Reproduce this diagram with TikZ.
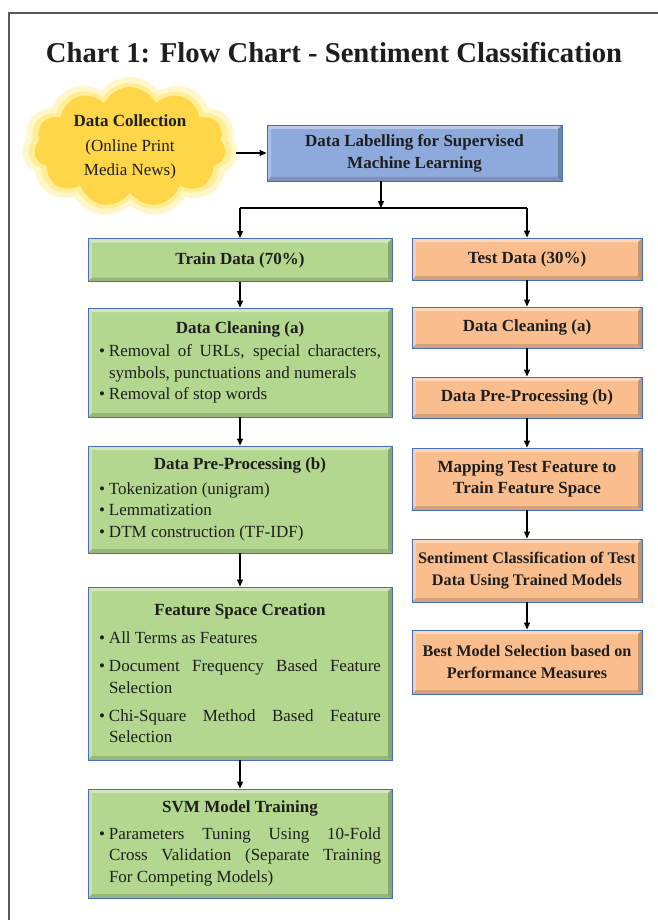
\documentclass[tikz,border=0pt]{standalone}
\usepackage{fontspec}
\setmainfont{Liberation Serif}
\usetikzlibrary{arrows.meta,shapes.symbols}
\definecolor{gfill}{RGB}{179,215,142}
\definecolor{ofill}{RGB}{250,190,142}
\definecolor{bfill}{RGB}{142,170,220}
\definecolor{bord}{RGB}{70,110,190}
\definecolor{txt}{RGB}{30,30,30}
\definecolor{cloudfill}{RGB}{255,214,72}
\definecolor{cloudglow}{RGB}{255,238,150}
\definecolor{framec}{RGB}{90,90,90}
\newcommand{\bodyfont}{\fontsize{17}{21.5}\selectfont}
\newcommand{\itm}[1]{\par\noindent\hangindent=10pt\hangafter=1\makebox[10pt][l]{\textbullet}#1\par}
\newcommand{\boxtitle}[1]{\centerline{\bfseries #1}}
\tikzset{
  bevel/.style={path picture={
    \fill[white,opacity=0.40] (path picture bounding box.north west) -- (path picture bounding box.north east)
      -- ([shift={(-4pt,-4pt)}]path picture bounding box.north east) -- ([shift={(4pt,-4pt)}]path picture bounding box.north west) -- cycle;
    \fill[white,opacity=0.25] (path picture bounding box.north west) -- ([shift={(4pt,-4pt)}]path picture bounding box.north west)
      -- ([shift={(4pt,4pt)}]path picture bounding box.south west) -- (path picture bounding box.south west) -- cycle;
    \fill[black,opacity=0.22] (path picture bounding box.north east) -- (path picture bounding box.south east)
      -- ([shift={(-4pt,4pt)}]path picture bounding box.south east) -- ([shift={(-4pt,-4pt)}]path picture bounding box.north east) -- cycle;
    \fill[black,opacity=0.15] (path picture bounding box.south west) -- (path picture bounding box.south east)
      -- ([shift={(-4pt,4pt)}]path picture bounding box.south east) -- ([shift={(4pt,4pt)}]path picture bounding box.south west) -- cycle;
  }},
  box/.style={draw=bord, line width=0.9pt, inner sep=0pt, text=txt, font=\bodyfont, bevel},
  gbox/.style={box, fill=gfill},
  gsimple/.style={gbox, align=center, font=\bodyfont\bfseries},
  glist/.style={gbox, text width=282pt, align=justify},
  obox/.style={box, fill=ofill, align=center, font=\bodyfont\bfseries, minimum width=230pt},
  bbox/.style={box, fill=bfill, align=center, font=\bodyfont\bfseries},
  arr/.style={-{Triangle[length=7pt,width=6pt]}, line width=1.1pt, black},
  conn/.style={line width=1.1pt, black}
}
\begin{document}
\begin{tikzpicture}[x=1pt,y=-1pt]
\useasboundingbox (0,0) rectangle (657,920);
\fill[white] (0,0) rectangle (657,920);
\draw[framec, line width=1.2pt] (9,930) -- (9,13) -- (670,13);

\node[anchor=base, text=txt, font=\fontsize{28.7}{34}\selectfont\bfseries] (title) at (334,63)
  {Chart 1: Flow Chart - Sentiment Classification};

% cloud
\node[cloud, cloud puffs=11, cloud puff arc=120, aspect=1.7, minimum width=204pt, minimum height=128pt,
      draw=cloudglow, draw opacity=0.5, line width=12pt, fill=cloudglow] (cloudglow) at (130,147) {};
\node[cloud, cloud puffs=11, cloud puff arc=120, aspect=1.7, minimum width=196pt, minimum height=122pt,
      draw=cloudglow, line width=4pt, fill=cloudfill, text=txt, align=center,
      font=\fontsize{17}{24.5}\selectfont] (cloud) at (130,147)
  {\textbf{Data Collection}\\(Online Print\\Media News)};

% top label box
\node[bbox, minimum width=295pt, minimum height=56pt, font=\fontsize{17}{22}\selectfont\bfseries] (label) at (414.5,153)
  {Data Labelling for Supervised\\Machine Learning};

% left column
\node[gsimple, minimum width=304pt, minimum height=43pt] (train) at (240,260) {Train Data (70\%)};
\node[glist, minimum width=304pt, minimum height=109pt] (clean) at (240,362.5)
  {\boxtitle{Data Cleaning (a)}\vspace{2pt}%
   \itm{Removal of URLs, special characters,\linebreak symbols, punctuations and numerals}%
   \itm{Removal of stop words}};
\node[glist, minimum width=304pt, minimum height=107pt] (prep) at (240,499.5)
  {\boxtitle{Data Pre-Processing (b)}\vspace{3pt}%
   \itm{Tokenization (unigram)}%
   \itm{Lemmatization}%
   \itm{DTM construction (TF-IDF)}};
\node[glist, minimum width=304pt, minimum height=173pt] (feat) at (240,673.5)
  {\parskip=6.5pt\boxtitle{Feature Space Creation}%
   \itm{All Terms as Features}%
   \itm{Document Frequency Based Feature\linebreak Selection}%
   \itm{Chi-Square Method Based Feature\linebreak Selection}};
\node[glist, minimum width=304pt, minimum height=109pt] (svm) at (240,843.5)
  {\boxtitle{SVM Model Training}\vspace{5pt}%
   \itm{Parameters Tuning Using 10-Fold\linebreak Cross Validation (Separate Training\linebreak For Competing Models)}};

% right column
\node[obox, minimum height=42pt] (test) at (527,259) {Test Data (30\%)};
\node[obox, minimum height=41pt] (tclean) at (527,327.5) {Data Cleaning (a)};
\node[obox, minimum height=41pt] (tprep) at (527,397.5) {Data Pre-Processing (b)};
\node[obox, minimum height=62pt] (tmap) at (527,479) {Mapping Test Feature to\\Train Feature Space};
\node[obox, minimum height=63pt, font=\fontsize{16.2}{21.5}\selectfont\bfseries] (tsent) at (527,570.5) {Sentiment Classification of Test\\Data Using Trained Models};
\node[obox, minimum height=64pt, font=\fontsize{16.2}{21.5}\selectfont\bfseries] (tbest) at (527,662) {Best Model Selection based on\\Performance Measures};

% connectors
\coordinate (split) at (381,208);
\coordinate (cloudout) at (236,153);
\draw[arr] (cloudout) -- (label.west);
\draw[arr] (split |- label.south) -- (split);
\draw[conn] (train.north |- split) -- (test.north |- split);
\draw[arr] (train.north |- split) -- (train.north);
\draw[arr] (test.north |- split) -- (test.north);
\draw[arr] (train) -- (clean);
\draw[arr] (clean) -- (prep);
\draw[arr] (prep) -- (feat);
\draw[arr] (feat) -- (svm);
\draw[arr] (test) -- (tclean);
\draw[arr] (tclean) -- (tprep);
\draw[arr] (tprep) -- (tmap);
\draw[arr] (tmap) -- (tsent);
\draw[arr] (tsent) -- (tbest);
\end{tikzpicture}
\end{document}
